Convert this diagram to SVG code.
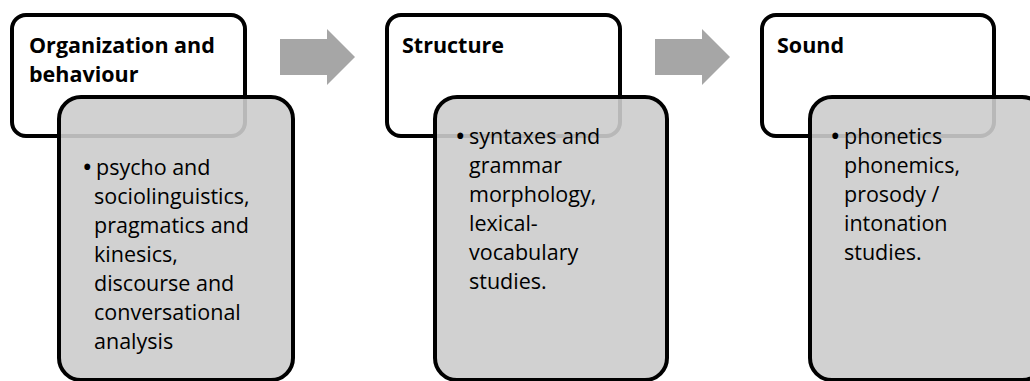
<svg xmlns="http://www.w3.org/2000/svg" width="1030" height="381" viewBox="0 0 1030 381">
<style>
.top{fill:#ffffff;stroke:#000000;stroke-width:4}
.sub{fill:#cccccc;fill-opacity:0.9;stroke:#000000;stroke-width:4}
.arrow{fill:#a6a6a6;stroke:none}
.h{font-family:"Open Sans",sans-serif;font-weight:bold;font-size:21.5px;fill:#000000}
.b{font-family:"Open Sans",sans-serif;font-size:21.5px;fill:#000000}
.dot{font-size:28px}
</style>
<rect width="1030" height="381" fill="#ffffff"/>
<g id="connectors">
<polygon class="arrow" points="280,39 327,39 327,29 355,57 327,85 327,75 280,75"/>
<polygon class="arrow" points="655,39 702,39 702,29 730,57 702,85 702,75 655,75"/>
</g>
<g id="node1">
<rect class="top" x="12" y="15" width="233" height="121" rx="14"/>
<text class="h" x="29" y="53">Organization and</text>
<text class="h" x="29" y="82">behaviour</text>
</g>
<g id="node1-detail">
<rect class="sub" x="59" y="97" width="234" height="283" rx="22"/>
<text class="b"><tspan class="dot" x="82" y="177">•</tspan><tspan x="96" y="175">psycho and</tspan><tspan x="94" y="204">sociolinguistics,</tspan><tspan x="94" y="233">pragmatics and</tspan><tspan x="94" y="262">kinesics,</tspan><tspan x="94" y="291">discourse and</tspan><tspan x="94" y="320">conversational</tspan><tspan x="94" y="349">analysis</tspan></text>
</g>
<g id="node2">
<rect class="top" x="387" y="15" width="233" height="121" rx="14"/>
<text class="h" x="402" y="53">Structure</text>
</g>
<g id="node2-detail">
<rect class="sub" x="435" y="97" width="232" height="283" rx="22"/>
<text class="b"><tspan class="dot" x="455" y="146">•</tspan><tspan x="469" y="144">syntaxes and</tspan><tspan x="469" y="173">grammar</tspan><tspan x="469" y="202">morphology,</tspan><tspan x="469" y="231">lexical-</tspan><tspan x="469" y="260">vocabulary</tspan><tspan x="469" y="289">studies.</tspan></text>
</g>
<g id="node3">
<rect class="top" x="762" y="15" width="232" height="121" rx="14"/>
<text class="h" x="777" y="53">Sound</text>
</g>
<g id="node3-detail">
<rect class="sub" x="810" y="97" width="234" height="283" rx="22"/>
<text class="b"><tspan class="dot" x="830" y="146">•</tspan><tspan x="844" y="144">phonetics</tspan><tspan x="844" y="173">phonemics,</tspan><tspan x="844" y="202">prosody /</tspan><tspan x="844" y="231">intonation</tspan><tspan x="844" y="260">studies.</tspan></text>
</g>
</svg>
